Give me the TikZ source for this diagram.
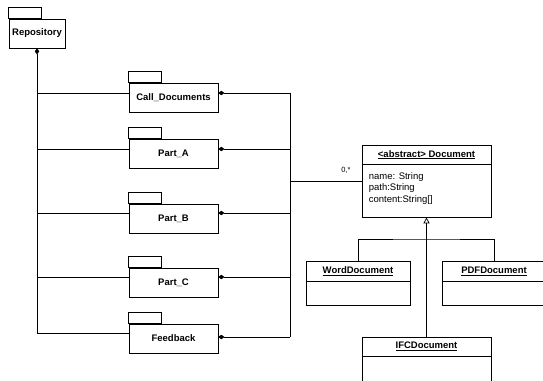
\documentclass[tikz,border=0pt]{standalone}
\usepackage{fontspec}
\setmainfont{Liberation Sans}
\usetikzlibrary{arrows.meta}

\begin{document}
\begin{tikzpicture}[x=1pt,y=-1pt,line width=0.7pt,
		pkg/.style={draw, minimum width=89pt, minimum height=29pt, font=\fontsize{9.5}{11}\selectfont\bfseries},
		cls/.style={draw, minimum width=104pt, minimum height=44pt},
		clsname/.style={font=\fontsize{9.5}{11}\selectfont\bfseries},
		compose/.style={{Diamond[length=6pt,width=4.5pt]}-},
		inherit/.style={-{Triangle[open,length=6pt,width=6pt]}}]
		\clip (0,0) rectangle (543,380);
		
		% packages
		\node[pkg, minimum width=56pt] (repo) at (37,33.5) {Repository};
		\node[pkg] (call) at (173.5,97.5) {Call\_Documents};
		\node[pkg] (parta) at (173.5,153.5) {Part\_A};
		\node[pkg] (partb) at (173.5,218.5) {Part\_B};
		\node[pkg] (partc) at (173.5,282.5) {Part\_C};
		\node[pkg] (feed) at (173.5,338.5) {Feedback};
		\foreach \p in {repo,call,parta,partb,partc,feed}{
			\draw (\p.north west) rectangle ++(33,-11);
		}
		
		% repository composition
		\foreach \p/\s in {call/4.5, parta/4.5, partb/5.5, partc/5.5, feed/5.5}{
			\coordinate (\p-l) at ([yshift=\s pt]\p.west);
			\draw (\p-l) -- (\p-l -| repo.south);
		}
		\draw[compose] (repo.south) -- (feed-l -| repo.south);
		
		% documents of each package
		\coordinate (rtrunk) at (290,181);
		\foreach \p/\s in {call/4.5, parta/4.5, partb/5.5, partc/5.5, feed/1.5}{
			\coordinate (\p-r) at ([yshift=\s pt]\p.east);
			\draw[compose] (\p-r) -- (\p-r -| rtrunk);
		}
		\draw (call-r -| rtrunk) -- (feed-r -| rtrunk);
		
		% classes
		\node[cls, minimum width=129pt, minimum height=72pt] (doc) at (426.5,181) {};
		\draw ([yshift=-20pt]doc.north west) -- ([yshift=-20pt]doc.north east);
		\node[clsname] (doc-name) at ([yshift=-10pt]doc.north) {\underline{<abstract> Document}};
		\node[anchor=west, align=left, font=\fontsize{9.5}{11.5}\selectfont] (doc-attr) at ([xshift=3.5pt,yshift=-7.5pt]doc.west) {name: String\\path:String\\content:String[]};
		\draw (rtrunk) -- (doc.west);
		\node[font=\fontsize{7.5}{9}\selectfont] (mult) at (346,170) {0,*};
		
		\node[cls] (word) at (358,283) {};
		\node[cls] (pdf) at (494,283) {};
		\node[cls, minimum width=129pt] (ifc) at (426.5,359) {};
		\foreach \c/\t/\h in {word/WordDocument/21, pdf/PDFDocument/21, ifc/IFCDocument/20}{
			\draw ([yshift=-\h pt]\c.north west) -- ([yshift=-\h pt]\c.north east);
			\node[clsname] (\c-name) at ([yshift=-\h pt/2]\c.north) {\underline{\t}};
		}
		
		% inheritance
		\coordinate (branch) at (426.5,239);
		\draw[inherit] (ifc.north) -- (doc.south);
		\draw (word.north) |- (branch) -| (pdf.north);
	\end{tikzpicture}
\end{document}
